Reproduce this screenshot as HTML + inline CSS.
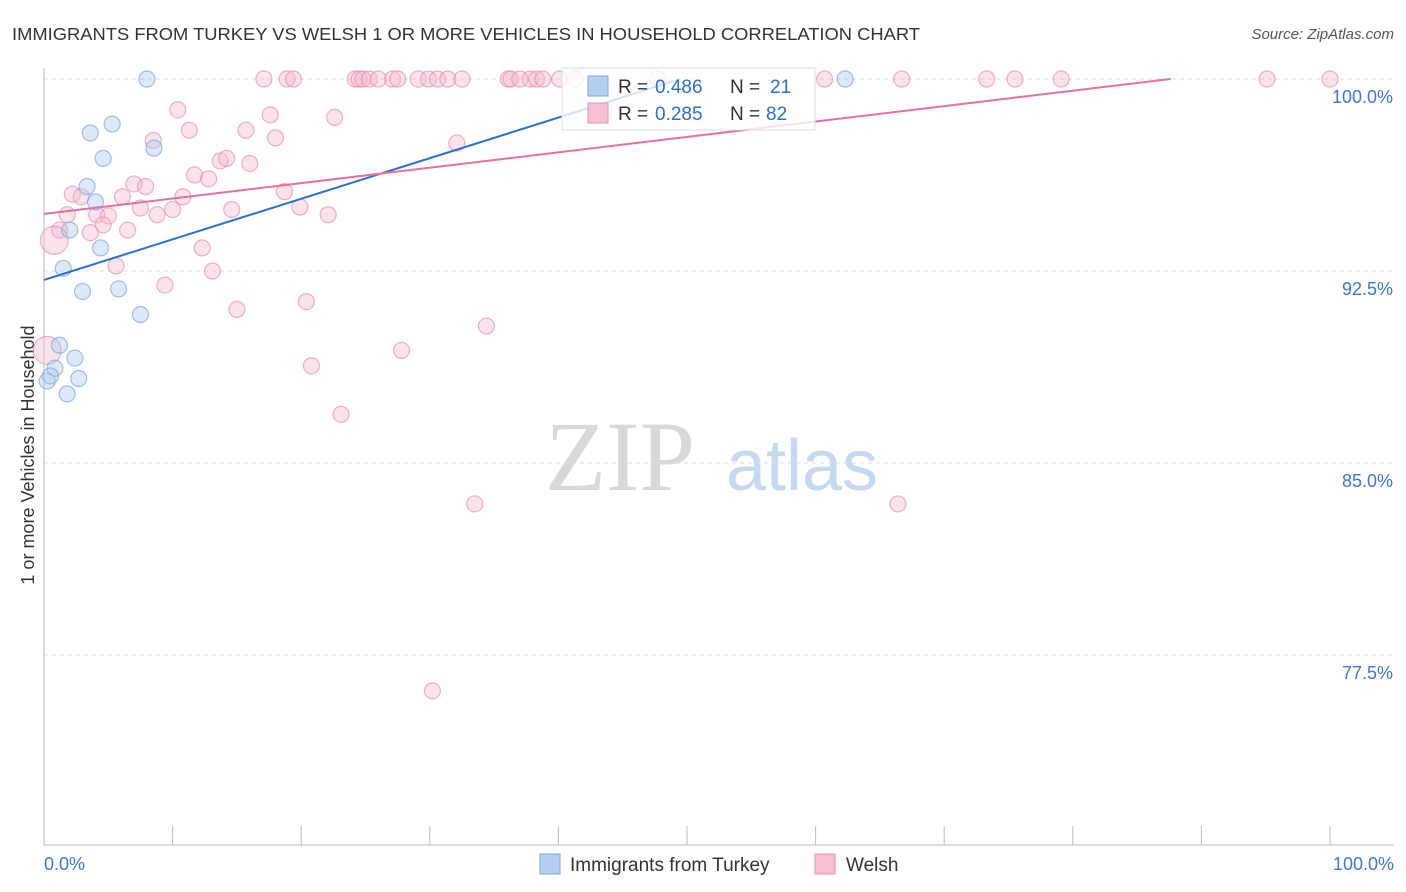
<!DOCTYPE html>
<html><head><meta charset="utf-8"><style>
body{margin:0;background:#fff;font-family:"Liberation Sans",sans-serif;}
svg{display:block}
</style></head><body>
<svg id="chart" width="1406" height="892">
<text x="12" y="40" font-size="17.5" fill="#333" textLength="908" lengthAdjust="spacingAndGlyphs">IMMIGRANTS FROM TURKEY VS WELSH 1 OR MORE VEHICLES IN HOUSEHOLD CORRELATION CHART</text>
<text x="1394" y="39" font-size="15" fill="#555" font-style="italic" text-anchor="end">Source: ZipAtlas.com</text>
<text x="620" y="490" font-size="100" fill="#d8d8d8" font-family="Liberation Serif,serif" text-anchor="middle">ZIP</text>
<text x="802" y="490" font-size="72" fill="#c6d9f2" text-anchor="middle">atlas</text>
<text transform="translate(34,455) rotate(-90)" font-size="18" fill="#333" text-anchor="middle">1 or more Vehicles in Household</text>
<g id="grid"></g><g id="axes"></g><g id="pts"></g><g id="lines"></g>
<g>
<rect x="562" y="68" width="253" height="62" fill="#fff" fill-opacity="0.8" stroke="#ddd"/>
<rect x="588" y="76" width="20" height="20" fill="#b5cff2" stroke="#7ba7e0"/>
<text x="618" y="93" font-size="19" fill="#333">R =</text>
<text x="655" y="93" font-size="19" fill="#2a6fd6">0.486</text>
<text x="730" y="93" font-size="19" fill="#333">N =</text>
<text x="770" y="93" font-size="19" fill="#2a6fd6">21</text>
<rect x="588" y="103" width="20" height="20" fill="#f7c0d2" stroke="#eb8fae"/>
<text x="618" y="120" font-size="19" fill="#333">R =</text>
<text x="655" y="120" font-size="19" fill="#2a6fd6">0.285</text>
<text x="730" y="120" font-size="19" fill="#333">N =</text>
<text x="766" y="120" font-size="19" fill="#2a6fd6">82</text>
</g>
<g>
<rect x="540" y="854" width="20" height="20" fill="#b5cff2" stroke="#7ba7e0"/>
<text x="570" y="871" font-size="19" fill="#333">Immigrants from Turkey</text>
<rect x="815" y="854" width="20" height="20" fill="#f7c0d2" stroke="#eb8fae"/>
<text x="846" y="871" font-size="19" fill="#333">Welsh</text>
</g>
</svg>
<script>
const yTicks=[100,92.5,85,77.5];
const yTickLabels=["100.0%","92.5%","85.0%","77.5%"];
const xTickLabels=["0.0%","100.0%"];
const turkeyX=[8.0,62.3,5.3,3.6,8.55,4.6,3.35,4.0,2.0,4.4,1.5,3.0,5.8,7.5,1.2,2.4,0.85,2.7,0.25,0.5,1.8];
const turkeyY=[100,100,98.24,97.89,97.3,96.9,95.8,95.2,94.1,93.4,92.6,91.7,91.8,90.8,89.6,89.1,88.7,88.3,88.2,88.4,87.7];
const welshX=[17.1,18.9,19.4,24.2,24.5,24.8,25.3,26.0,27.1,27.5,29.1,29.9,30.6,31.4,32.5,36.1,36.3,37.0,37.8,38.3,38.8,40.1,41.3,47.7,60.7,66.7,73.3,75.5,79.1,95.1,100,
10.4,17.6,22.6,11.3,15.7,8.5,18.0,32.1,13.7,14.2,16.0,11.7,12.8,7.0,7.9,2.2,2.9,6.1,10.8,18.7,7.5,10.0,14.6,19.9,1.8,4.1,5.0,8.8,22.1,4.6,6.5,1.2,3.6,0.8,5.6,12.3,13.1,9.4,15.0,20.4,34.4,27.8,20.8,23.1,33.5,66.4,30.2,0.25];
const welshY=[100,100,100,100,100,100,100,100,100,100,100,100,100,100,100,100,100,100,100,100,100,100,100,100,100,100,100,100,100,100,100,
98.8,98.6,98.5,98.0,98.0,97.6,97.7,97.5,96.8,96.9,96.7,96.25,96.1,95.9,95.8,95.5,95.4,95.4,95.4,95.6,94.96,94.9,94.9,95.0,94.7,94.7,94.65,94.7,94.7,94.3,94.1,94.1,94.0,93.7,92.7,93.4,92.5,91.95,91.0,91.3,90.35,89.4,88.8,86.9,83.4,83.4,76.1,89.4];
const welshBig=[93.7,89.4];
const turkeyTrend=[0,92.15,49.5,100];
const welshTrend=[0,94.73,87.6,100];
const X=v=>44+v*12.86, Y=v=>79+(100-v)*25.6;
const NS="http://www.w3.org/2000/svg";
function mk(tag,attrs,parent){const e=document.createElementNS(NS,tag);for(const k in attrs)e.setAttribute(k,attrs[k]);document.getElementById(parent).appendChild(e);return e;}
yTicks.forEach((t,i)=>{
 const l=mk('line',{x1:44,x2:1394,y1:Y(t),y2:Y(t),stroke:'#ddd','stroke-dasharray':'4,4'},'grid');
 
 
 const tx=mk('text',{x:1393,y:Y(t)+24,'font-size':18,fill:'#3b78d8','text-anchor':'end'},'grid');
 tx.textContent=yTickLabels[i];
 
 
});
const ya=mk('line',{x1:44,x2:44,y1:68,y2:845,stroke:'#bbb'},'axes');


const xa=mk('line',{x1:44,x2:1394,y1:845,y2:845,stroke:'#bbb'},'axes');


for(let i=0;i<=10;i++){const t=mk('line',{x1:X(i*10),x2:X(i*10),y1:826,y2:845,stroke:'#bbb'},'axes');
 
 }
[[0,'start',44],[100,'end',1394]].forEach((d,i)=>{const t=mk('text',{x:d[2],y:870,'font-size':18,fill:'#3b78d8','text-anchor':d[1]},'axes');t.textContent=xTickLabels[i];
 
 });
function pts(xs,ys,fill,stroke,name){xs.forEach((x,i)=>{const big=name==='welsh-point'&&welshBig.includes(ys[i])&&x<1;
 const c=mk('circle',{cx:X(x),cy:Y(ys[i]),r:big?14:8,fill:fill,'fill-opacity':0.4,stroke:stroke,'stroke-opacity':0.7,'stroke-width':1.2},'pts');
 
 });}
pts(welshX,welshY,'#f5b8cc','#eb8fae','welsh-point');
pts(turkeyX,turkeyY,'#a9c8ef','#7ba7e0','turkey-point');
const l1=mk('line',{x1:X(turkeyTrend[0]),y1:Y(turkeyTrend[1]),x2:X(turkeyTrend[2]),y2:Y(turkeyTrend[3]),stroke:'#2a6fd6','stroke-width':2},'lines');


const l2=mk('line',{x1:X(welshTrend[0]),y1:Y(welshTrend[1]),x2:X(welshTrend[2]),y2:Y(welshTrend[3]),stroke:'#e8709a','stroke-width':2},'lines');


</script>
</body></html>
